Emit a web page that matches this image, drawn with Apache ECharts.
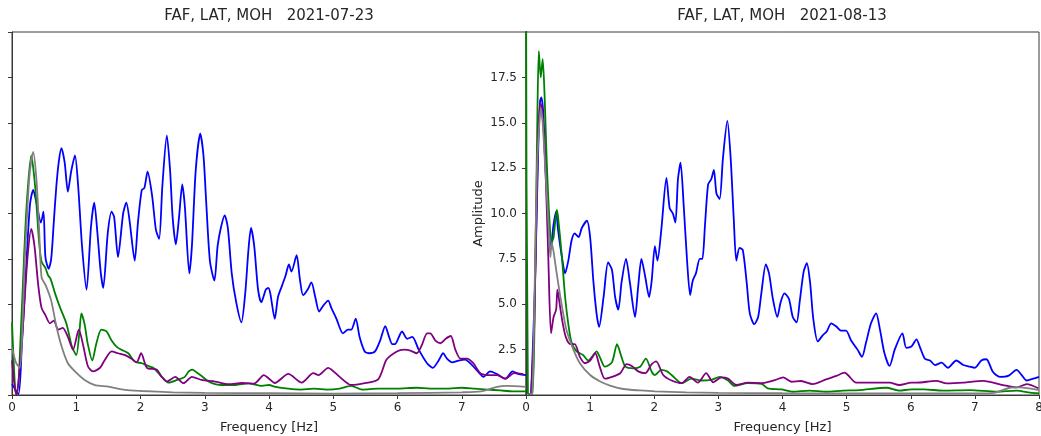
<!DOCTYPE html>
<html>
<head>
<meta charset="utf-8">
<script src="https://cdn.jsdelivr.net/npm/echarts@6/dist/echarts.min.js"></script>
<style>
html,body{margin:0;padding:0;background:#fff;overflow:hidden;}
#chart{width:1041px;height:436px;}
</style>
</head>
<body>
<div id="chart"></div>
<script>
// ---- Titles / labels ----
const titleLeft = 'FAF, LAT, MOH   2021-07-23';
const titleRight = 'FAF, LAT, MOH   2021-08-13';
const xName = 'Frequency [Hz]';
const yName = 'Amplitude';
const xTicks = [0, 1, 2, 3, 4, 5, 6, 7, 8];
const yTicks = [2.5, 5.0, 7.5, 10.0, 12.5, 15.0, 17.5];

// ---- Left panel (2021-07-23): [frequency Hz, amplitude] ----
const L_blue = [[0.00,0.6],[0.10,0.05],[0.15,2.5],[0.22,7.0],[0.28,10.5],[0.33,11.3],[0.38,10.6],[0.45,9.5],[0.49,10.1],[0.52,7.6],[0.57,6.95],[0.61,7.5],[0.65,9.5],[0.69,11.5],[0.73,12.9],[0.77,13.6],[0.82,12.8],[0.87,11.2],[0.92,12.3],[0.98,13.2],[1.03,11.5],[1.09,8.2],[1.16,5.8],[1.23,9.3],[1.28,10.6],[1.33,8.9],[1.38,6.8],[1.42,5.9],[1.49,8.9],[1.55,10.1],[1.59,9.8],[1.65,7.6],[1.73,10.0],[1.78,10.6],[1.83,9.6],[1.91,7.4],[1.96,9.5],[2.02,11.3],[2.06,11.4],[2.11,12.3],[2.18,11.0],[2.24,9.1],[2.29,8.6],[2.34,11.5],[2.41,14.3],[2.46,12.4],[2.50,9.8],[2.55,8.3],[2.60,9.8],[2.65,11.6],[2.69,10.4],[2.76,6.7],[2.80,8.2],[2.86,12.4],[2.93,14.4],[2.98,13.2],[3.02,10.8],[3.08,7.4],[3.15,6.3],[3.20,8.2],[3.25,9.2],[3.31,9.9],[3.36,9.2],[3.42,6.7],[3.49,5.1],[3.57,4.0],[3.63,5.6],[3.68,8.0],[3.72,9.2],[3.77,8.2],[3.83,5.8],[3.88,5.1],[3.95,5.8],[3.99,5.9],[4.02,5.6],[4.09,4.2],[4.14,5.4],[4.20,6.0],[4.26,6.6],[4.31,7.2],[4.35,6.8],[4.43,7.7],[4.48,6.4],[4.53,5.5],[4.60,5.8],[4.66,6.2],[4.72,5.4],[4.78,4.6],[4.84,4.9],[4.92,5.2],[4.97,4.8],[5.05,4.2],[5.15,3.4],[5.23,3.6],[5.28,3.6],[5.35,4.2],[5.41,3.2],[5.49,2.4],[5.56,2.3],[5.65,2.4],[5.73,3.0],[5.81,3.8],[5.86,3.3],[5.92,2.8],[5.96,2.8],[6.07,3.5],[6.15,3.1],[6.23,3.2],[6.33,2.5],[6.46,1.75],[6.55,1.5],[6.64,1.9],[6.71,2.3],[6.77,2.0],[6.85,1.8],[6.95,1.9],[7.05,1.95],[7.16,1.65],[7.25,1.3],[7.34,1.0],[7.44,1.3],[7.55,1.15],[7.68,0.9],[7.79,1.3],[7.89,1.15],[8.00,1.1]];
const L_green = [[0.00,4.0],[0.05,0.3],[0.08,0.05],[0.15,4.5],[0.22,10.0],[0.30,13.2],[0.36,11.5],[0.42,8.5],[0.46,7.35],[0.52,7.0],[0.56,6.6],[0.60,6.4],[0.67,5.6],[0.75,4.8],[0.85,3.9],[0.93,2.7],[1.00,2.2],[1.05,3.5],[1.08,4.5],[1.13,3.9],[1.18,2.8],[1.25,1.9],[1.31,2.8],[1.39,3.6],[1.47,3.5],[1.55,3.0],[1.63,2.65],[1.70,2.5],[1.81,2.3],[1.91,1.84],[2.02,1.75],[2.12,1.6],[2.20,1.5],[2.28,1.2],[2.36,0.9],[2.44,0.68],[2.57,0.83],[2.69,1.0],[2.75,1.3],[2.81,1.4],[2.87,1.25],[2.93,1.1],[3.06,0.74],[3.16,0.6],[3.27,0.55],[3.48,0.55],[3.68,0.64],[3.89,0.5],[4.00,0.55],[4.10,0.45],[4.30,0.35],[4.50,0.3],[4.70,0.35],[4.90,0.3],[5.10,0.35],[5.28,0.5],[5.45,0.3],[5.70,0.35],[6.00,0.35],[6.30,0.4],[6.50,0.35],[6.80,0.35],[7.00,0.4],[7.20,0.35],[7.40,0.3],[7.60,0.25],[7.80,0.2],[8.00,0.2]];
const L_purple = [[0.00,1.9],[0.04,0.5],[0.07,0.0],[0.12,1.5],[0.17,3.8],[0.24,7.5],[0.30,9.15],[0.35,8.2],[0.41,6.0],[0.46,4.8],[0.52,4.4],[0.59,3.95],[0.65,4.1],[0.72,3.6],[0.79,3.7],[0.87,3.2],[0.95,2.5],[1.04,3.6],[1.11,2.7],[1.18,1.6],[1.26,1.3],[1.37,1.5],[1.44,1.9],[1.55,2.4],[1.65,2.3],[1.76,2.2],[1.86,2.0],[1.94,1.8],[2.01,2.3],[2.10,1.5],[2.25,1.4],[2.33,1.0],[2.41,0.74],[2.54,1.0],[2.67,0.65],[2.80,1.0],[2.95,0.83],[3.16,0.74],[3.37,0.6],[3.58,0.66],[3.77,0.63],[3.92,1.1],[4.00,0.9],[4.09,0.66],[4.30,1.16],[4.51,0.68],[4.69,1.2],[4.77,1.1],[4.92,1.5],[5.10,1.0],[5.28,0.55],[5.47,0.64],[5.70,0.86],[5.83,1.95],[5.99,2.4],[6.10,2.5],[6.20,2.45],[6.30,2.3],[6.38,2.76],[6.46,3.4],[6.51,3.4],[6.59,3.0],[6.67,2.85],[6.75,3.1],[6.83,3.25],[6.90,2.5],[6.98,2.0],[7.08,2.0],[7.18,1.75],[7.29,1.2],[7.42,1.1],[7.55,1.1],[7.68,0.9],[7.81,1.2],[7.96,1.15]];
const L_grey = [[0.00,2.6],[0.06,1.8],[0.12,1.5],[0.20,7.5],[0.27,12.0],[0.33,13.4],[0.38,11.9],[0.42,9.3],[0.46,6.5],[0.53,6.0],[0.61,5.2],[0.69,3.8],[0.77,2.7],[0.87,1.75],[0.98,1.3],[1.13,0.83],[1.29,0.55],[1.50,0.46],[1.76,0.28],[2.02,0.22],[2.50,0.15],[3.00,0.12],[4.00,0.1],[5.00,0.08],[6.00,0.1],[7.00,0.15],[7.30,0.2],[7.55,0.45],[7.70,0.5],[8.00,0.45]];

// ---- Right panel (2021-08-13): [frequency Hz, amplitude] ----
const R_blue = [[0.08,0.05],[0.14,6.0],[0.19,13.5],[0.22,16.2],[0.24,16.4],[0.27,15.5],[0.30,12.8],[0.35,9.8],[0.38,8.0],[0.40,8.4],[0.43,9.4],[0.47,10.1],[0.50,9.1],[0.56,7.6],[0.61,6.7],[0.66,7.4],[0.71,8.5],[0.76,8.9],[0.82,8.7],[0.87,9.2],[0.95,9.6],[1.00,8.7],[1.05,6.3],[1.10,4.5],[1.14,3.75],[1.21,5.4],[1.28,7.3],[1.34,6.9],[1.39,5.4],[1.44,4.7],[1.49,6.2],[1.56,7.5],[1.62,6.2],[1.70,4.3],[1.75,6.0],[1.80,7.5],[1.86,6.5],[1.92,5.4],[1.96,6.3],[2.01,8.2],[2.05,7.4],[2.11,9.1],[2.19,11.96],[2.24,10.3],[2.29,10.0],[2.33,9.5],[2.37,11.9],[2.41,12.8],[2.46,10.4],[2.51,7.5],[2.56,5.5],[2.60,6.3],[2.65,6.7],[2.71,7.5],[2.75,7.5],[2.79,9.3],[2.84,11.6],[2.89,11.9],[2.93,12.4],[2.97,11.1],[3.02,10.8],[3.07,13.0],[3.14,15.1],[3.19,13.15],[3.24,9.7],[3.28,7.4],[3.33,8.1],[3.38,8.0],[3.44,6.25],[3.49,4.5],[3.56,3.9],[3.62,4.3],[3.67,5.6],[3.74,7.2],[3.79,6.7],[3.85,5.3],[3.92,4.3],[3.97,5.1],[4.03,5.6],[4.10,5.3],[4.16,4.3],[4.22,4.0],[4.27,5.2],[4.33,6.8],[4.38,7.26],[4.43,6.2],[4.48,4.2],[4.55,2.95],[4.63,3.3],[4.69,3.5],[4.76,3.95],[4.84,3.77],[4.91,3.55],[4.99,3.55],[5.07,3.0],[5.17,2.5],[5.24,2.1],[5.30,2.85],[5.38,3.95],[5.46,4.5],[5.52,3.6],[5.59,2.3],[5.67,1.6],[5.75,2.5],[5.87,3.4],[5.93,2.6],[6.01,2.67],[6.09,3.07],[6.14,2.67],[6.22,2.0],[6.30,1.9],[6.38,1.65],[6.48,1.78],[6.58,1.5],[6.71,1.9],[6.82,1.65],[6.92,1.56],[7.00,1.5],[7.10,1.9],[7.18,1.97],[7.28,1.28],[7.39,1.0],[7.52,1.05],[7.65,1.38],[7.73,1.1],[7.81,0.8],[7.91,0.9],[8.00,1.0]];
const R_green = [[0.00,25],[0.03,0.1],[0.10,0.05],[0.14,6],[0.18,16],[0.20,18.95],[0.23,17.5],[0.26,18.5],[0.29,16.5],[0.32,13.2],[0.36,10.0],[0.40,8.4],[0.43,8.7],[0.48,10.2],[0.50,9.8],[0.56,7.6],[0.61,5.4],[0.66,3.9],[0.71,2.9],[0.79,2.4],[0.89,2.2],[0.97,1.9],[1.05,2.2],[1.10,2.4],[1.15,2.1],[1.23,1.56],[1.34,1.8],[1.42,2.8],[1.48,2.2],[1.55,1.56],[1.68,1.47],[1.78,1.56],[1.87,2.0],[1.96,1.28],[2.01,1.1],[2.11,1.38],[2.20,1.3],[2.27,1.1],[2.43,0.65],[2.58,0.9],[2.74,0.8],[2.90,0.85],[3.02,1.0],[3.15,0.8],[3.25,0.5],[3.46,0.65],[3.67,0.62],[3.77,0.37],[3.98,0.31],[4.16,0.18],[4.42,0.24],[4.68,0.18],[4.94,0.24],[5.20,0.27],[5.62,0.4],[5.82,0.24],[6.01,0.31],[6.20,0.31],[6.50,0.24],[6.92,0.27],[7.34,0.18],[7.65,0.24],[7.86,0.13],[8.00,0.09]];
const R_purple = [[0.08,0.05],[0.13,4],[0.18,13],[0.22,16.1],[0.25,15.8],[0.30,12.8],[0.35,7.3],[0.39,3.4],[0.43,4.3],[0.47,4.7],[0.49,5.8],[0.53,4.9],[0.57,4.0],[0.62,3.2],[0.69,2.8],[0.76,2.8],[0.84,2.1],[0.92,1.75],[1.00,1.9],[1.08,2.3],[1.15,1.56],[1.23,0.9],[1.34,1.0],[1.47,1.2],[1.57,1.7],[1.65,1.6],[1.75,1.3],[1.86,1.2],[1.96,1.7],[2.03,1.85],[2.14,1.1],[2.27,0.8],[2.43,0.65],[2.55,1.0],[2.68,0.68],[2.81,1.2],[2.92,0.7],[3.05,0.97],[3.15,0.9],[3.28,0.55],[3.46,0.68],[3.67,0.65],[3.88,0.82],[4.01,0.97],[4.14,0.73],[4.29,0.77],[4.47,0.6],[4.68,0.86],[4.84,1.05],[4.97,1.23],[5.02,1.1],[5.15,0.68],[5.36,0.68],[5.67,0.68],[5.82,0.55],[6.01,0.68],[6.09,0.68],[6.40,0.78],[6.56,0.64],[6.82,0.68],[7.13,0.78],[7.44,0.55],[7.65,0.42],[7.81,0.6],[7.99,0.37]];
const R_grey = [[0.06,0.05],[0.10,0.1],[0.13,5],[0.17,12.4],[0.20,14.5],[0.23,15.8],[0.26,15.0],[0.30,12.5],[0.35,9.5],[0.38,7.6],[0.40,8.4],[0.43,7.9],[0.45,7.4],[0.50,6.2],[0.56,4.9],[0.63,3.6],[0.74,2.5],[0.84,1.75],[1.00,1.1],[1.15,0.76],[1.31,0.52],[1.52,0.33],[1.78,0.25],[2.01,0.2],[2.50,0.15],[3.00,0.12],[4.00,0.1],[5.00,0.09],[6.00,0.09],[7.00,0.09],[7.30,0.12],[7.55,0.4],[7.70,0.42],[8.00,0.27]];

const COLORS = {blue:'#0000ff', green:'#008000', purple:'#800080', grey:'#808080'};
const FONT = 'DejaVu Sans';
const TXT = '#262626';
const AX = '#3a3a3a';

function xAxisCfg(gi, showMax) {
  return {
    type:'value', gridIndex:gi, min:0, max:8, interval:1,
    name:xName, nameLocation:'middle', nameGap:26,
    nameTextStyle:{fontFamily:FONT, fontSize:13, color:TXT},
    axisLine:{show:true, lineStyle:{color:AX, width:1}},
    axisTick:{show:true, length:4, lineStyle:{color:AX}},
    axisLabel:{show:true, fontFamily:FONT, fontSize:12, color:TXT, margin:7,
      showMaxLabel:showMax, formatter:v => (xTicks.indexOf(v) >= 0 ? String(v) : '')},
    splitLine:{show:false}
  };
}
function yAxisCfg(gi, showLabels) {
  return {
    type:'value', gridIndex:gi, min:0, max:20, interval:2.5,
    name: showLabels ? yName : '', nameLocation:'middle', nameGap:41,
    nameTextStyle:{fontFamily:FONT, fontSize:13, color:TXT},
    axisLine:{show:true, lineStyle:{color:AX, width:1}},
    axisTick:{show:true, length:4, lineStyle:{color:AX}},
    axisLabel:{show:showLabels, fontFamily:FONT, fontSize:12, color:TXT, margin:9,
      showMinLabel:false, showMaxLabel:false,
      formatter:v => (yTicks.indexOf(v) >= 0 ? v.toFixed(1) : '')},
    splitLine:{show:false}
  };
}
function line(data, color, gi) {
  return {type:'line', xAxisIndex:gi, yAxisIndex:gi, data:data, showSymbol:false, symbol:'none',
    smooth:0.25, clip:true, lineStyle:{color:color, width:1.8}, itemStyle:{color:color},
    emphasis:{disabled:true}, animation:false};
}

const chart = echarts.init(document.getElementById('chart'), null, {renderer:'canvas'});
chart.setOption({
  backgroundColor:'#ffffff',
  animation:false,
  graphic:[
    {type:'text', x:269, y:16, style:{text:titleLeft, fontFamily:FONT, fontSize:15, fill:TXT, align:'center', verticalAlign:'middle'}},
    {type:'text', x:782, y:16, style:{text:titleRight, fontFamily:FONT, fontSize:15, fill:TXT, align:'center', verticalAlign:'middle'}}
  ],
  grid:[
    {left:12, top:32, width:514, height:363, show:true, borderColor:AX, borderWidth:1, backgroundColor:'transparent', containLabel:false, outerBoundsMode:'none'},
    {left:526, top:32, width:513, height:363, show:true, borderColor:AX, borderWidth:1, backgroundColor:'transparent', containLabel:false, outerBoundsMode:'none'}
  ],
  xAxis:[xAxisCfg(0,false), xAxisCfg(1,true)],
  yAxis:[yAxisCfg(0,false), yAxisCfg(1,true)],
  series:[
    line(L_blue, COLORS.blue, 0), line(L_green, COLORS.green, 0), line(L_purple, COLORS.purple, 0), line(L_grey, COLORS.grey, 0),
    line(R_blue, COLORS.blue, 1), line(R_green, COLORS.green, 1), line(R_purple, COLORS.purple, 1), line(R_grey, COLORS.grey, 1)
  ]
});
</script>
</body>
</html>
